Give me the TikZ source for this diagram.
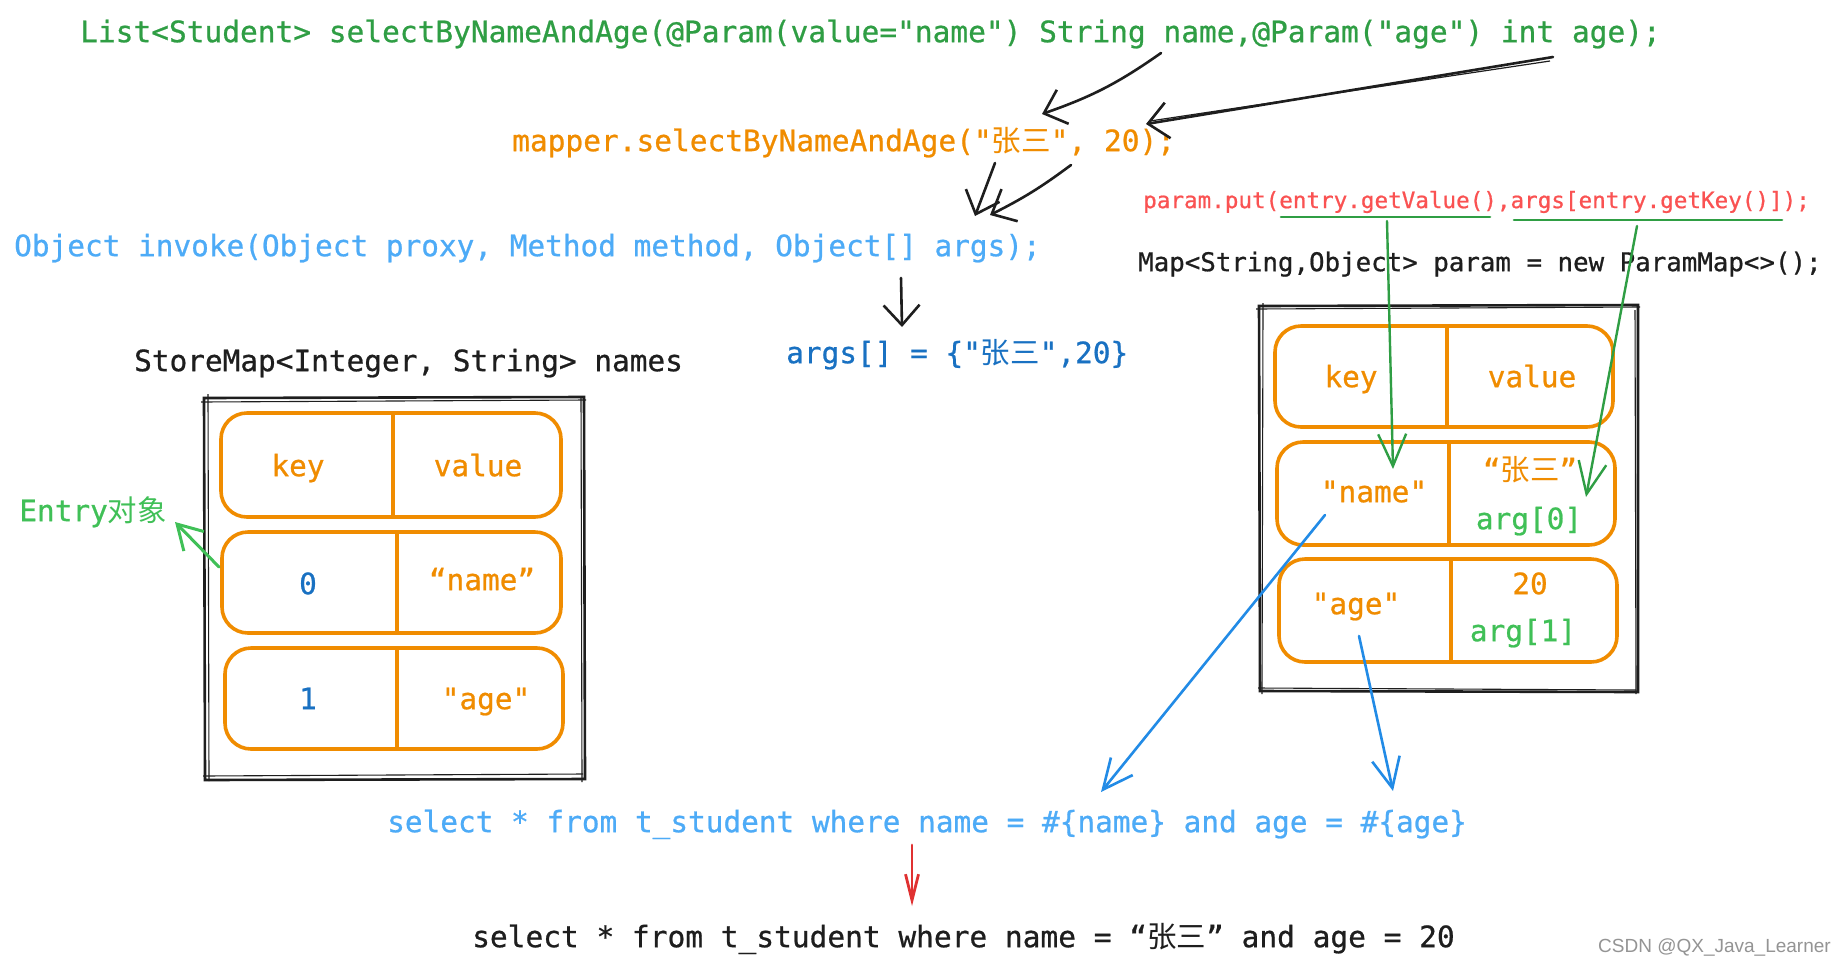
\documentclass[tikz,border=0pt]{standalone}
\usepackage{fontspec}
\setmonofont[FakeBold=0.7]{DejaVu Sans Mono}
\newfontfamily\cjk{Noto Sans CJK SC}
\newfontfamily\wmfont{Liberation Sans}
\usetikzlibrary{arrows.meta}
\definecolor{cgreen}{HTML}{2F9E44}
\definecolor{lgreen}{HTML}{40C057}
\definecolor{corange}{HTML}{F08C00}
\definecolor{lblue}{HTML}{4DABF7}
\definecolor{dblue}{HTML}{1971C2}
\definecolor{mblue}{HTML}{228BE6}
\definecolor{cred}{HTML}{FA5252}
\definecolor{dred}{HTML}{E03131}
\definecolor{cblack}{HTML}{1E1E1E}
\tikzset{
  code/.style={inner sep=0pt, font=\ttfamily\fontsize{29.4}{35}\selectfont},
  codel/.style={code, anchor=mid west},
  rowbox/.style={draw=corange, line width=3.6pt, rounded corners=26pt},
  divider/.style={draw=corange, line width=3.6pt},
  framebox/.style={draw=cblack, line width=2.6pt},
  frameline/.style={draw=cblack, line width=1.1pt},
  blackarrow/.style={draw=cblack, line width=2.6pt, line cap=round, -{Straight Barb[length=20pt,width=36pt,line width=2.6pt]}},
  greenarrow/.style={draw=cgreen, line width=2.4pt, line cap=round, -{Straight Barb[length=32pt,width=28pt,line width=2.4pt]}},
  entryarrow/.style={draw=lgreen, line width=3pt, line cap=round, -{Straight Barb[length=24pt,width=28pt,line width=3pt]}},
  bluearrow/.style={draw=mblue, line width=2.6pt, line cap=round, -{Straight Barb[length=30pt,width=28pt,line width=2.6pt]}},
  redarrow/.style={draw=dred, line width=2.8pt, line cap=round, -{Straight Barb[length=26pt,width=13pt,line width=2.8pt]}},
  uline/.style={draw=cgreen, line width=2.6pt, line cap=round},
}
\begin{document}
\begin{tikzpicture}[x=1pt,y=-1pt]
\useasboundingbox (0,0) rectangle (1846,967);
\fill[white] (0,0) rectangle (1846,967);

% ---------- texts ----------
\node[codel, text=cgreen, font=\ttfamily\fontsize{29.5}{35}\selectfont] (sig) at (80,40)
  {List<Student> selectByNameAndAge(@Param(value="name") String name,@Param("age") int age);};
\node[codel, text=corange, font=\ttfamily\fontsize{29.5}{35}\selectfont] (mapper) at (512,149)
  {mapper.selectByNameAndAge("{\cjk 张三}", 20);};
\node[codel, text=lblue] (invoke) at (14,254)
  {Object invoke(Object proxy, Method method, Object[] args);};
\node[codel, text=dblue] (args) at (786,361)
  {args[] = \{"{\cjk 张三}",20\}};
\node[codel, text=cblack] (storemap) at (134,369)
  {StoreMap<Integer, String> names};
\node[codel, text=cred, font=\ttfamily\fontsize{22.6}{27}\selectfont] (put) at (1143,206)
  {param.put(entry.getValue(),args[entry.getKey()]);};
\node[codel, text=cblack, font=\ttfamily\fontsize{25.8}{31}\selectfont] (mapdecl) at (1138,269)
  {Map<String,Object> param = new ParamMap<>();};
\node[codel, text=lblue] (sqlt) at (387,830)
  {select * from t\_student where name = \#\{name\} and age = \#\{age\}};
\node[codel, text=cblack, font=\ttfamily\fontsize{29.5}{35}\selectfont] (sqlr) at (472,945)
  {select * from t\_student where name = “{\cjk 张三}” and age = 20};
\node[code, anchor=mid, text=lgreen] (entry) at (93,519) {Entry{\cjk 对象}};
\node[inner sep=0pt, anchor=mid east, text=black!42, font=\wmfont\fontsize{19}{22}\selectfont] (wm) at (1831,950) {CSDN @QX\_Java\_Learner};

% ---------- left frame (StoreMap) ----------
\draw[framebox] (204,398) -- (584,397) -- (585,779) -- (205,780) -- cycle;
\draw[frameline] (201,402) -- (586,400);
\draw[frameline] (208,394) -- (209,781);
\draw[frameline] (203,776) -- (583,774);
\draw[frameline] (581,396) -- (582,782);
\draw[rowbox] (221,413) rectangle (561,517);
\draw[divider] (393,413) -- (393,517);
\draw[rowbox] (222,532) rectangle (561,633);
\draw[divider] (397,532) -- (397,633);
\draw[rowbox] (225,648) rectangle (563,749);
\draw[divider] (397,648) -- (397,749);
\node[code, anchor=mid, text=corange] (lkey) at (298,474) {key};
\node[code, anchor=mid, text=corange] (lval) at (478,474) {value};
\node[code, anchor=mid, text=dblue] (lk0) at (308,592) {0};
\node[code, anchor=mid, text=corange] (lv0) at (482,588) {“name”};
\node[code, anchor=mid, text=dblue] (lk1) at (308,707) {1};
\node[code, anchor=mid, text=corange] (lv1) at (486,707) {"age"};

% ---------- right frame (ParamMap) ----------
\draw[framebox] (1259,306) -- (1638,305) -- (1638,692) -- (1260,691) -- cycle;
\draw[frameline] (1256,309) -- (1640,307);
\draw[frameline] (1263,303) -- (1262,694);
\draw[frameline] (1258,688) -- (1636,690);
\draw[frameline] (1635,310) -- (1636,694);
\draw[rowbox] (1275,326) rectangle (1613,427);
\draw[divider] (1447,326) -- (1447,429);
\draw[rowbox] (1277,442) rectangle (1615,545);
\draw[divider] (1449,440) -- (1449,545);
\draw[rowbox] (1279,559) rectangle (1617,662);
\draw[divider] (1451,557) -- (1451,662);
\node[code, anchor=mid, text=corange] (rkey) at (1351,385) {key};
\node[code, anchor=mid, text=corange] (rval) at (1532,385) {value};
\node[code, anchor=mid, text=corange] (rk0) at (1374,500) {"name"};
\node[code, anchor=mid, text=corange] (rv0) at (1530,478) {“{\cjk 张三}”};
\node[code, anchor=mid, text=lgreen] (ra0) at (1529,527) {arg[0]};
\node[code, anchor=mid, text=corange] (rk1) at (1356,612) {"age"};
\node[code, anchor=mid, text=corange] (rv1) at (1530,592) {20};
\node[code, anchor=mid, text=lgreen] (ra1) at (1523,639) {arg[1]};

% ---------- underlines ----------
\coordinate (u1a) at (1281,217); \coordinate (u1b) at (1490,217);
\coordinate (u2a) at (1514,220); \coordinate (u2b) at (1782,220);
\draw[uline] (u1a) -- (u1b);
\draw[uline] (u2a) -- (u2b);

% ---------- connector end points ----------
\coordinate (a1s) at (1161,53);  \coordinate (a1e) at (1042,114);
\coordinate (a2s) at (1553,57);  \coordinate (a2e) at (1146,124);
\coordinate (a3s) at (995,163);  \coordinate (a3e) at (975,216);
\coordinate (a4s) at (1071,165); \coordinate (a4e) at (990,215);
\coordinate (a5s) at (901,278);  \coordinate (a5e) at (902,327);
\coordinate (g1s) at (1387,221); \coordinate (g1e) at (1393,469);
\coordinate (g2s) at (1637,226); \coordinate (g2e) at (1586,497);
\coordinate (b1s) at (1325,515); \coordinate (b1e) at (1101,792);
\coordinate (b2s) at (1359,636); \coordinate (b2e) at (1393,791);
\coordinate (rs) at (912,845);   \coordinate (re) at (912,906);
\coordinate (es) at (219,567);   \coordinate (ee) at (175,522);

% ---------- connectors ----------
\draw[blackarrow] (a1s) to[bend left=8] (a1e);
\draw[blackarrow] (a2s) -- (a2e);
\draw[cblack, line width=1.2pt] (1550,61) -- (1150,121);
\draw[blackarrow] (a3s) -- (a3e);
\draw[blackarrow] (a4s) to[bend left=5] (a4e);
\draw[blackarrow] (a5s) -- (a5e);
\draw[greenarrow] (g1s) -- (g1e);
\draw[greenarrow] (g2s) -- (g2e);
\draw[bluearrow] (b1s) -- (b1e);
\draw[bluearrow] (b2s) -- (b2e);
\draw[redarrow] (rs) -- (re);
\draw[entryarrow] (es) -- (ee);
\end{tikzpicture}
\end{document}
